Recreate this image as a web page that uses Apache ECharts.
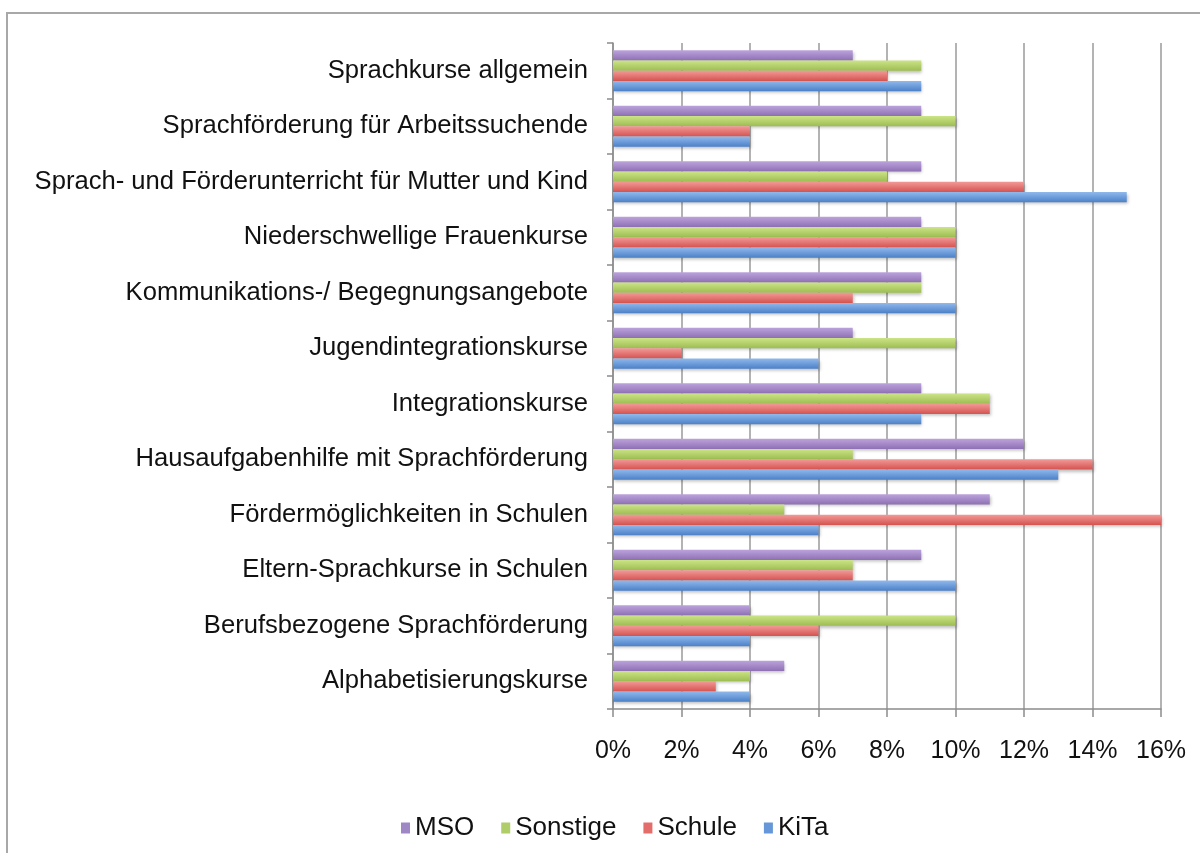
<!DOCTYPE html>
<html>
<head>
<meta charset="utf-8">
<script src="https://cdn.jsdelivr.net/npm/echarts@6/dist/echarts.min.js"></script>
<style>
  html, body { margin: 0; padding: 0; background: #fff; }
  #chart { width: 1200px; height: 853px; }
</style>
</head>
<body>
<div id="chart"></div>
<script>
  // Kategorien von oben nach unten
  let categories = [
    'Sprachkurse allgemein',
    'Sprachförderung für Arbeitssuchende',
    'Sprach- und Förderunterricht für Mutter und Kind',
    'Niederschwellige Frauenkurse',
    'Kommunikations-/ Begegnungsangebote',
    'Jugendintegrationskurse',
    'Integrationskurse',
    'Hausaufgabenhilfe mit Sprachförderung',
    'Fördermöglichkeiten in Schulen',
    'Eltern-Sprachkurse in Schulen',
    'Berufsbezogene Sprachförderung',
    'Alphabetisierungskurse'
  ];

  let seriesNames = ['MSO', 'Sonstige', 'Schule', 'KiTa'];

  // Werte in %
  let msoValues = [7, 9, 9, 9, 9, 7, 9, 12, 11, 9, 4, 5];
  let sonstigeValues = [9, 10, 8, 10, 9, 10, 11, 7, 5, 7, 10, 4];
  let schuleValues = [8, 4, 12, 10, 7, 2, 11, 14, 16, 7, 6, 3];
  let kitaValues = [9, 4, 15, 10, 10, 6, 9, 13, 6, 10, 4, 4];

  let xTicks = [0, 2, 4, 6, 8, 10, 12, 14, 16];

  let seriesValues = [msoValues, sonstigeValues, schuleValues, kitaValues];

  let colorStops = [
    ['#bca3dc', '#8e70b4'],
    ['#cce487', '#9dbd52'],
    ['#f39a98', '#d45350'],
    ['#90b9ec', '#4b80c8']
  ];
  let flatColors = ['#9f86c4', '#afcd68', '#e36d6a', '#6697d8'];

  let chart = echarts.init(document.getElementById('chart'));

  let series = [];
  for (let i = 0; i < seriesNames.length; i++) {
    series.push({
      name: seriesNames[i],
      type: 'bar',
      data: seriesValues[i],
      barGap: '0%',
      barCategoryGap: '26%',
      itemStyle: {
        color: new echarts.graphic.LinearGradient(0, 0, 0, 1, [
          {offset: 0, color: colorStops[i][0]},
          {offset: 1, color: colorStops[i][1]}
        ]),
        shadowColor: 'rgba(0, 0, 0, 0.25)',
        shadowBlur: 3,
        shadowOffsetX: 1,
        shadowOffsetY: 2
      }
    });
  }

  let options = {
    backgroundColor: '#ffffff',
    animation: false,
    textStyle: {
      fontFamily: 'Liberation Sans, Arial, sans-serif'
    },
    graphic: [{
      type: 'rect',
      shape: {x: 7, y: 13, width: 1300, height: 900},
      style: {fill: 'none', stroke: '#a8a8a8', lineWidth: 2},
      silent: true,
      z: -10
    }],
    legend: {
      data: seriesNames.map(function (name, i) {
        return {name: name, itemStyle: {color: flatColors[i], shadowBlur: 0}};
      }),
      left: 396,
      top: 810,
      itemWidth: 9,
      itemHeight: 11,
      itemGap: 27,
      icon: 'rect',
      textStyle: {
        fontSize: 26,
        color: '#111'
      }
    },
    grid: {
      left: 613,
      right: 39,
      top: 43,
      bottom: 144,
      containLabel: false
    },
    xAxis: {
      type: 'value',
      min: xTicks[0],
      max: xTicks[xTicks.length - 1],
      interval: 2,
      axisLine: {
        show: true,
        lineStyle: {color: '#8c8c8c', width: 1.5}
      },
      axisTick: {
        show: true,
        length: 8,
        lineStyle: {color: '#8c8c8c', width: 1.5}
      },
      splitLine: {
        show: true,
        lineStyle: {color: '#9a9a9a', width: 1.5}
      },
      axisLabel: {
        margin: 30,
        fontSize: 25,
        color: '#111',
        formatter: '{value}%'
      }
    },
    yAxis: {
      type: 'category',
      inverse: true,
      data: categories,
      axisLine: {
        show: true,
        lineStyle: {color: '#8c8c8c', width: 1.5}
      },
      axisTick: {
        show: true,
        length: 6,
        lineStyle: {color: '#8c8c8c', width: 1.5}
      },
      axisLabel: {
        margin: 25,
        fontSize: 25.6,
        color: '#111'
      }
    },
    series: series
  };

  chart.setOption(options);
</script>
</body>
</html>
